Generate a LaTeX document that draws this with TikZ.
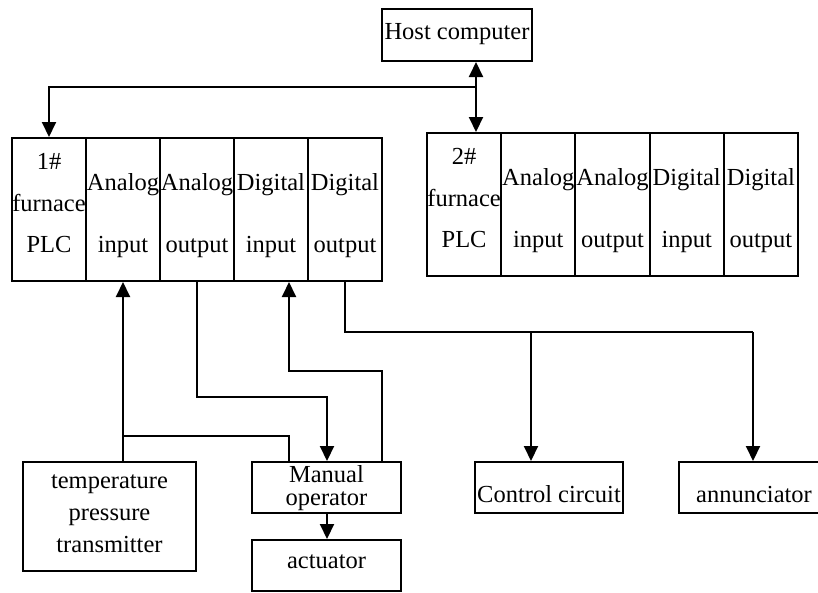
\documentclass[tikz,border=0pt]{standalone}
\usepackage{fontspec}
\setmainfont{Liberation Serif}
\usetikzlibrary{arrows.meta}
\begin{document}
\begin{tikzpicture}[x=1pt,y=-1pt,
  box/.style={draw, line width=2pt, rectangle, inner sep=0pt},
  cell/.style={box, minimum width=74pt, minimum height=143pt},
  cellb/.style={box, minimum width=74.2pt, minimum height=143pt},
  txt/.style={anchor=base, inner sep=0pt, font=\fontsize{24.5}{28}\selectfont},
  conn/.style={line width=2pt},
  arr/.style={conn, -{Triangle[width=14pt,length=15pt]}},
  darr/.style={conn, {Triangle[width=14pt,length=15pt]}-{Triangle[width=14pt,length=15pt]}}]
\useasboundingbox (0,0) rectangle (818,592);
% host
\node[box, minimum width=150pt, minimum height=52pt] (host) at (457,35) {};
\node[txt] (thost) at (457,39) {Host computer};
% PLC 1
\node[cell] (p1c1) at (49,209.5) {};
\node[cell] (p1c2) at (123,209.5) {};
\node[cell] (p1c3) at (197,209.5) {};
\node[cell] (p1c4) at (271,209.5) {};
\node[cell] (p1c5) at (345,209.5) {};
\node[txt] (a1) at (49,169) {1\#};
\node[txt] (a2) at (49,211) {furnace};
\node[txt] (a3) at (49,252) {PLC};
\node[txt] (b1) at (123,190) {Analog};
\node[txt] (b2) at (123,252) {input};
\node[txt] (c1) at (197,190) {Analog};
\node[txt] (c2) at (197,252) {output};
\node[txt] (d1) at (271,190) {Digital};
\node[txt] (d2) at (271,252) {input};
\node[txt] (e1) at (345,190) {Digital};
\node[txt] (e2) at (345,252) {output};
% PLC 2
\node[cellb] (p2c1) at (464.1,204.5) {};
\node[cellb] (p2c2) at (538.3,204.5) {};
\node[cellb] (p2c3) at (612.5,204.5) {};
\node[cellb] (p2c4) at (686.7,204.5) {};
\node[cellb] (p2c5) at (760.9,204.5) {};
\node[txt] (f1) at (464.1,164) {2\#};
\node[txt] (f2) at (464.1,206) {furnace};
\node[txt] (f3) at (464.1,247) {PLC};
\node[txt] (g1) at (538.3,185) {Analog};
\node[txt] (g2) at (538.3,247) {input};
\node[txt] (h1) at (612.5,185) {Analog};
\node[txt] (h2) at (612.5,247) {output};
\node[txt] (i1) at (686.7,185) {Digital};
\node[txt] (i2) at (686.7,247) {input};
\node[txt] (j1) at (760.9,185) {Digital};
\node[txt] (j2) at (760.9,247) {output};
% bottom boxes
\node[box, minimum width=173pt, minimum height=109pt] (temp) at (109.5,516.5) {};
\node[txt] (tt1) at (109.5,488) {temperature};
\node[txt] (tt2) at (109.5,520) {pressure};
\node[txt] (tt3) at (109.5,552) {transmitter};
\node[box, minimum width=149pt, minimum height=51pt] (man) at (326.5,487.5) {};
\node[txt] (tm1) at (326.5,482) {Manual};
\node[txt] (tm2) at (326.5,505) {operator};
\node[box, minimum width=149pt, minimum height=51pt] (act) at (326.5,565.5) {};
\node[txt] (ta) at (326.5,568) {actuator};
\node[box, minimum width=148pt, minimum height=51pt] (ctl) at (549,487.5) {};
\node[txt] (tc) at (549,502) {Control circuit};
\node[box, minimum width=150pt, minimum height=51pt] (ann) at (754,487.5) {};
\node[txt] (tn) at (754,502) {annunciator};
% coordinates
\coordinate (bus) at (476,87);
\coordinate (xa) at (289,436);
\coordinate (xb) at (327,397);
\coordinate (xc) at (382,371);
\coordinate (xd) at (289,371);
\coordinate (xe) at (345,332);
\coordinate (xf) at (531,332);
\coordinate (xg) at (753,332);
% connectors
\draw[darr] (host.south -| bus) -- (p2c1.north -| bus);
\draw[arr] (bus) -| (p1c1.north);
\draw[arr] (temp.north -| p1c2.south) -- (p1c2.south);
\draw[conn] (xa -| p1c2.south) -- (xa) -- (man.north -| xa);
\draw[arr] (p1c3.south) |- (xb) -- (man.north -| xb);
\draw[arr] (man.north -| xc) -- (xc) -- (xd) -- (p1c4.south -| xd);
\draw[conn] (p1c5.south) -- (xe) -- (xg);
\draw[arr] (xf) -- (ctl.north -| xf);
\draw[arr] (xg) -- (ann.north -| xg);
\draw[arr] (man.south -| xb) -- (act.north -| xb);
\end{tikzpicture}
\end{document}
